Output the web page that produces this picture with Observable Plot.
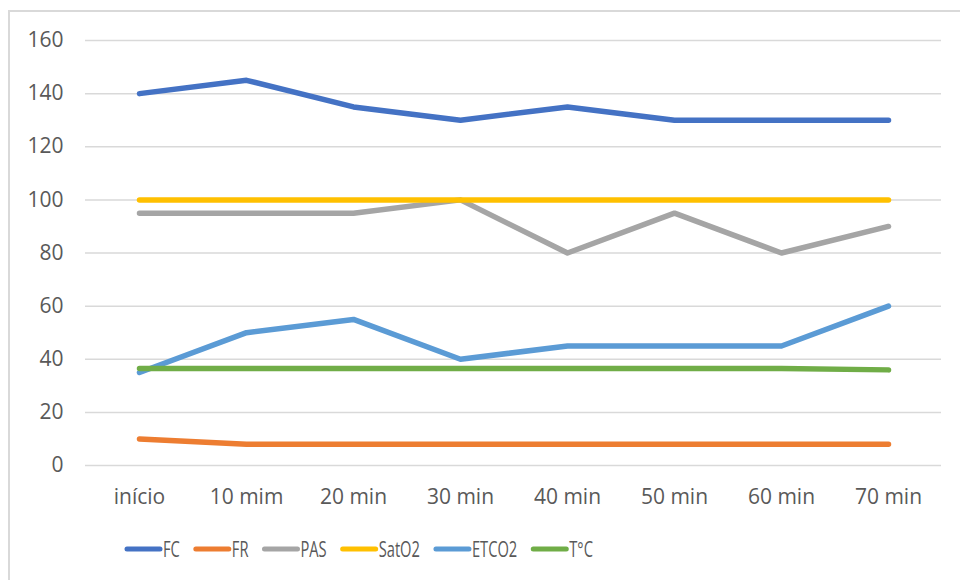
<!DOCTYPE html>
<html>
<head>
<meta charset="utf-8">
<script src="https://cdn.jsdelivr.net/npm/d3@7"></script>
<script src="https://cdn.jsdelivr.net/npm/@observablehq/plot@0.6"></script>
<style>
  html, body { margin: 0; padding: 0; background: #fff; }
  body { width: 960px; height: 580px; overflow: hidden; position: relative; font-family: "Open Sans", sans-serif; }
  #frame { position: absolute; left: 8px; top: 10px; width: 2000px; height: 2000px;
           border-left: 2px solid #d9d9d9; border-top: 2px solid #d9d9d9; }
  #chart { position: absolute; left: 0; top: 0; }
  #legend { position: absolute; left: 0; top: 529px; }
</style>
</head>
<body>
<div id="frame"></div>
<div id="chart"></div>
<svg id="legend" width="960" height="40"></svg>
<script>
const categories = ["início", "10 mim", "20 min", "30 min", "40 min", "50 min", "60 min", "70 min"];
const seriesNames = ["FC", "FR", "PAS", "SatO2", "ETCO2", "T°C"];
const seriesColors = ["#4472C4", "#ED7D31", "#A5A5A5", "#FFC000", "#5B9BD5", "#70AD47"];
const yTicks = [0, 20, 40, 60, 80, 100, 120, 140, 160];

const fc    = [140, 145, 135, 130, 135, 130, 130, 130];
const fr    = [10, 8, 8, 8, 8, 8, 8, 8];
const pas   = [95, 95, 95, 100, 80, 95, 80, 90];
const sato2 = [100, 100, 100, 100, 100, 100, 100, 100];
const etco2 = [35, 50, 55, 40, 45, 45, 45, 60];
const temp  = [36.5, 36.5, 36.5, 36.5, 36.5, 36.5, 36.5, 36];

const seriesValues = [fc, fr, pas, sato2, etco2, temp];
const data = [];
seriesNames.forEach((s, i) => {
  seriesValues[i].forEach((v, j) => data.push({series: s, cat: categories[j], value: v}));
});

const chart = Plot.plot({
  width: 960,
  height: 500,
  marginLeft: 85,
  marginRight: 19,
  marginTop: 40,
  marginBottom: 35,
  style: {fontFamily: "Open Sans", fontSize: "21px", color: "#595959", background: "transparent", overflow: "visible"},
  x: {type: "point", domain: categories, padding: 0.5, label: null},
  y: {domain: [0, 160], label: null},
  color: {domain: seriesNames, range: seriesColors},
  marks: [
    Plot.gridY(yTicks, {stroke: "#d9d9d9", strokeOpacity: 1, strokeWidth: 1.5}),
    Plot.axisY(yTicks, {tickSize: 0, tickPadding: 22, label: null, fill: "#595959"}),
    Plot.axisX({tickSize: 0, tickPadding: 24, label: null, fill: "#595959"}),
    Plot.lineY(data, {x: "cat", y: "value", z: "series", stroke: "series",
      strokeWidth: 5.5, strokeLinecap: "round", strokeLinejoin: "round"})
  ]
});
document.getElementById("chart").appendChild(chart);

// legend
const leg = d3.select("#legend");
let x = 125;
const cy = 20;
seriesNames.forEach((name, i) => {
  leg.append("line")
    .attr("x1", x + 2).attr("x2", x + 35).attr("y1", cy).attr("y2", cy)
    .attr("stroke", seriesColors[i]).attr("stroke-width", 5).attr("stroke-linecap", "round");
  const tx = x + 38;
  const t = leg.append("text")
    .attr("transform", `translate(${tx},${cy}) scale(0.7,1)`)
    .attr("dy", "0.36em")
    .attr("fill", "#595959")
    .style("font-family", "Open Sans")
    .style("font-size", "21px")
    .text(name);
  const w = t.node().getComputedTextLength() * 0.7;
  x = tx + w + 14;
});
</script>
</body>
</html>
